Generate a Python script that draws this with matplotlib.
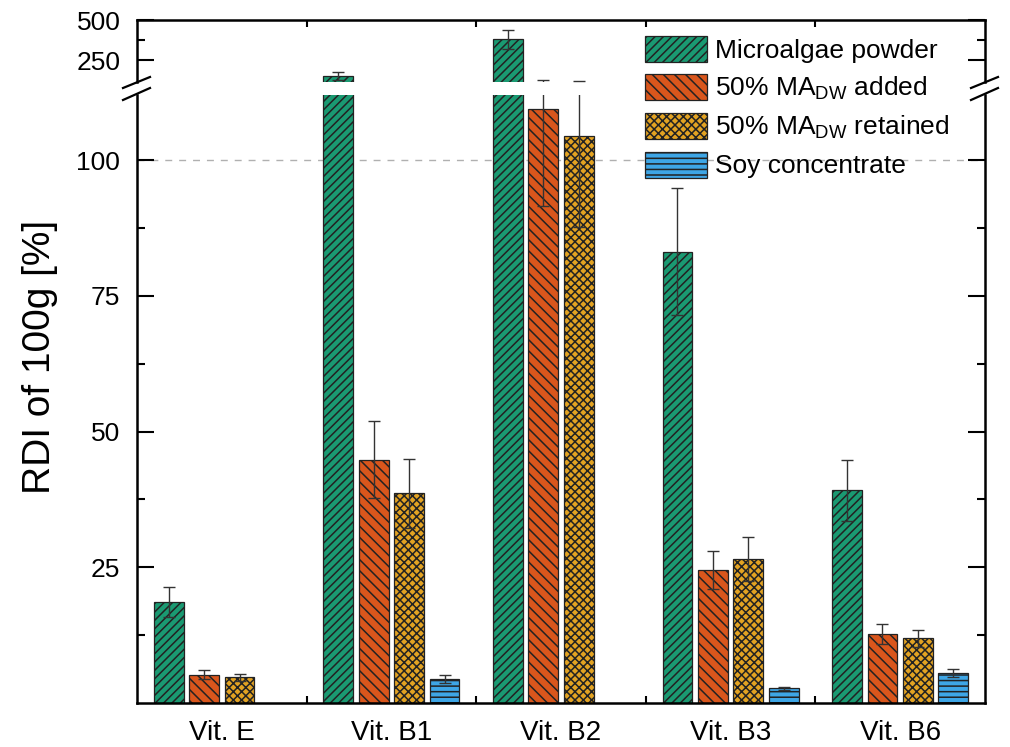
import matplotlib.pyplot as plt
import numpy as np
from matplotlib.lines import Line2D
from matplotlib.patches import Patch

plt.rcParams['font.family'] = ['Liberation Sans', 'DejaVu Sans']
plt.rcParams['mathtext.fontset'] = 'custom'
plt.rcParams['mathtext.rm'] = 'Liberation Sans'
plt.rcParams['hatch.linewidth'] = 1.1

# data (RDI of 100 g, %)
vitamins = ["Vit. E", "Vit. B1", "Vit. B2", "Vit. B3", "Vit. B6"]
series = ["Microalgae powder", "50% MA$_\\mathregular{DW}$ added",
          "50% MA$_\\mathregular{DW}$ retained", "Soy concentrate"]
microalgae = [18.6, 153, 381, 83.1, 39.2]
microalgae_err = [2.8, 24, 60, 11.7, 5.6]
added = [5.2, 44.8, 109.4, 24.5, 12.7]
added_err = [0.8, 7.1, 17.8, 3.5, 1.8]
retained = [4.7, 38.6, 104.4, 26.5, 11.9]
retained_err = [0.7, 6.3, 16.7, 4.0, 1.6]
soy = [np.nan, 4.4, np.nan, 2.7, 5.5]
soy_err = [np.nan, 0.7, np.nan, 0.3, 0.7]

values = [microalgae, added, retained, soy]
errors = [microalgae_err, added_err, retained_err, soy_err]
colors = ["#1a9a72", "#d9561c", "#e3a322", "#3ea6e6"]
hatches = ["////", "\\\\\\", "xxxx", "---"]

lower_ticks = [25, 50, 75, 100]
upper_ticks = [250, 500]

W, H = 1010, 747
fig = plt.figure(figsize=(W / 100, H / 100), dpi=100)

x0, x1 = 137 / W, 985 / W
ax_bot = fig.add_axes([x0, (H - 703) / H, x1 - x0, (703 - 95) / H])
ax_top = fig.add_axes([x0, (H - 82) / H, x1 - x0, (82 - 20) / H], sharex=ax_bot)

centers = np.arange(len(vitamins)) + 0.5
width = 0.176
pitch = 0.209

for ax in (ax_bot, ax_top):
    for i, (vals, errs) in enumerate(zip(values, errors)):
        pos = centers + (i - 1.5) * pitch
        v = np.array(vals, dtype=float)
        e = np.array(errs, dtype=float)
        ok = ~np.isnan(v)
        ax.bar(pos[ok], v[ok], width=width, color=colors[i], edgecolor="#222222",
               linewidth=0.9, hatch=hatches[i], zorder=2)
        ax.errorbar(pos[ok], v[ok], yerr=e[ok], fmt="none", ecolor="#333333",
                    elinewidth=1, capsize=4.5, capthick=1, zorder=3)
    ax.set_xlim(0, 5)
    ax.set_xticks(centers)
    ax.set_xticks(np.arange(1, 5), minor=True)
    ax.tick_params(axis="x", which="major", length=0)
    ax.tick_params(axis="x", which="minor", direction="in", length=5, width=1.5,
                   top=True, bottom=True)
    ax.tick_params(axis="y", which="both", direction="in", left=True, right=True,
                   labelsize=19, pad=12)
    ax.tick_params(axis="y", which="major", length=12, width=1.5)
    ax.tick_params(axis="y", which="minor", length=6, width=1.5)
    for s in ax.spines.values():
        s.set_linewidth(1.8)

ax_bot.set_ylim(0, 112)
ax_bot.set_yticks(lower_ticks)
ax_bot.set_yticks([12.5, 37.5, 62.5, 87.5], minor=True)
ax_bot.spines["top"].set_visible(False)
ax_bot.tick_params(axis="x", which="minor", top=False)
ax_bot.set_xticklabels(vitamins, fontsize=20)
ax_bot.tick_params(axis="x", which="major", pad=12)
ax_bot.axhline(100, color="#b0b0b0", lw=1, ls=(0, (5, 5)), zorder=1)

ax_top.set_ylim(117, 500)
ax_top.set_yticks(upper_ticks)
ax_top.set_yticks([375], minor=True)
ax_top.spines["bottom"].set_visible(False)
ax_top.tick_params(axis="x", which="both", bottom=False, labelbottom=False)

# break marks on both vertical spines
for xc in (137, 985):
    for y_lo, y_hi in ((88, 77), (100, 88)):
        fig.add_artist(Line2D([(xc - 14) / W, (xc + 13) / W],
                              [(H - y_lo) / H, (H - y_hi) / H],
                              color="black", lw=1.6))

fig.text(40 / W, (H - 357) / H, "RDI of 100g [%]", rotation=90,
         ha="center", va="center", fontsize=28)

handles = [Patch(facecolor=colors[i], edgecolor="#222222", hatch=hatches[i],
                 linewidth=0.9) for i in range(4)]
fig.legend(handles, series, loc="upper left", bbox_to_anchor=(645 / W, (H - 36) / H),
           frameon=False, fontsize=19, handlelength=2.35, handleheight=1.14,
           handletextpad=0.3, labelspacing=0.4, borderpad=0, borderaxespad=0)

fig.savefig("out.png", dpi=100)
